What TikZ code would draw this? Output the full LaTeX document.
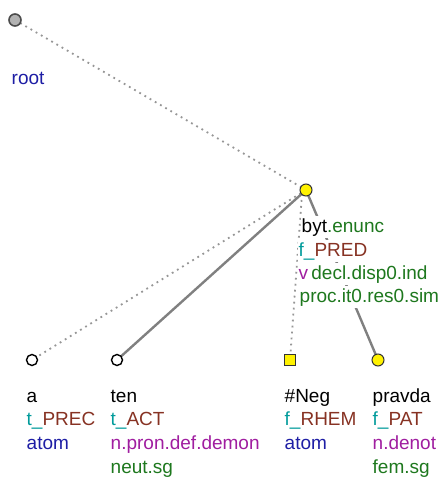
\documentclass[tikz,border=0pt]{standalone}
\usepackage{fontspec}
\setmainfont{Liberation Sans}
\definecolor{cteal}{RGB}{0,155,155}
\definecolor{cbrown}{RGB}{135,50,35}
\definecolor{cblue}{RGB}{30,30,165}
\definecolor{cpurple}{RGB}{160,30,160}
\definecolor{cgreen}{RGB}{30,120,30}
\definecolor{edgegray}{RGB}{128,128,128}
\definecolor{dotgray}{RGB}{150,150,150}
\begin{document}
\begin{tikzpicture}[x=1pt,y=-1pt,
  lbl/.style={anchor=base west,inner xsep=0.5pt,inner ysep=0pt,fill=white,font=\fontsize{19}{23}\selectfont,execute at begin node=\rule[-6pt]{0pt}{22pt}},
  dotedge/.style={draw=dotgray,line width=1.8pt,dash pattern=on 1.8pt off 4.2pt},
  solidedge/.style={draw=edgegray,line width=2.4pt},
  wnode/.style={circle,draw=black,fill=white,line width=1.4pt,minimum size=11pt,inner sep=0},
  ynode/.style={circle,draw=black!80,fill=yellow,line width=1pt,minimum size=12pt,inner sep=0},
  ysq/.style={rectangle,draw=black!80,fill=yellow,line width=1pt,minimum size=11pt,inner sep=0},
  gnode/.style={circle,draw=black!70,fill=black!30,line width=1.6pt,minimum size=12pt,inner sep=0}]
\useasboundingbox (0,0) rectangle (444,478);
\coordinate (root) at (15,20);
\coordinate (byt) at (306,190);
\coordinate (bytsw) at (302,194);
\coordinate (a) at (32,360);
\coordinate (ten) at (117,360);
\coordinate (neg) at (290,360);
\coordinate (pravda) at (378,360);
% edges
\draw[dotedge] (root) -- (byt);
\draw[dotedge] (byt) -- (a);
\draw[solidedge] (byt) -- (ten);
\draw[dotedge] (bytsw) -- (neg);
\draw[solidedge] (byt) -- (pravda);
% labels
\node[lbl] (lroot) at (11,85) {\textcolor{cblue}{root}};
\node[lbl] (lb1) at (301,232) {byt\textcolor{cgreen}{.enunc}};
\node[lbl] (lb2) at (298,256) {\textcolor{cteal}{f\_}\textcolor{cbrown}{PRED}};
\node[lbl] (lb3) at (298,279) {\textcolor{cpurple}{v}\,\textcolor{cgreen}{decl.disp0.ind}};
\node[lbl] (lb4) at (299,302) {\textcolor{cgreen}{proc.it0.res0.sim}};
\node[lbl] (la1) at (26,402) {a};
\node[lbl] (la2) at (26,425) {\textcolor{cteal}{t\_}\textcolor{cbrown}{PREC}};
\node[lbl] (la3) at (26,449) {\textcolor{cblue}{atom}};
\node[lbl] (lt1) at (110,402) {ten};
\node[lbl] (lt2) at (110,425) {\textcolor{cteal}{t\_}\textcolor{cbrown}{ACT}};
\node[lbl] (lt3) at (110,449) {\textcolor{cpurple}{n.pron.def.demon}};
\node[lbl] (lt4) at (110,473) {\textcolor{cgreen}{neut.sg}};
\node[lbl] (ln1) at (284,402) {\#Neg};
\node[lbl] (ln2) at (284,425) {\textcolor{cteal}{f\_}\textcolor{cbrown}{RHEM}};
\node[lbl] (ln3) at (284,449) {\textcolor{cblue}{atom}};
\node[lbl] (lp1) at (372,402) {pravda};
\node[lbl] (lp2) at (372,425) {\textcolor{cteal}{f\_}\textcolor{cbrown}{PAT}};
\node[lbl] (lp3) at (372,449) {\textcolor{cpurple}{n.denot}};
\node[lbl] (lp4) at (372,473) {\textcolor{cgreen}{fem.sg}};
% nodes
\node[gnode] (nroot) at (root) {};
\node[ynode] (nbyt) at (byt) {};
\node[wnode] (na) at (a) {};
\node[wnode] (nten) at (ten) {};
\node[ysq] (nneg) at (neg) {};
\node[ynode] (npravda) at (pravda) {};
\end{tikzpicture}
\end{document}
